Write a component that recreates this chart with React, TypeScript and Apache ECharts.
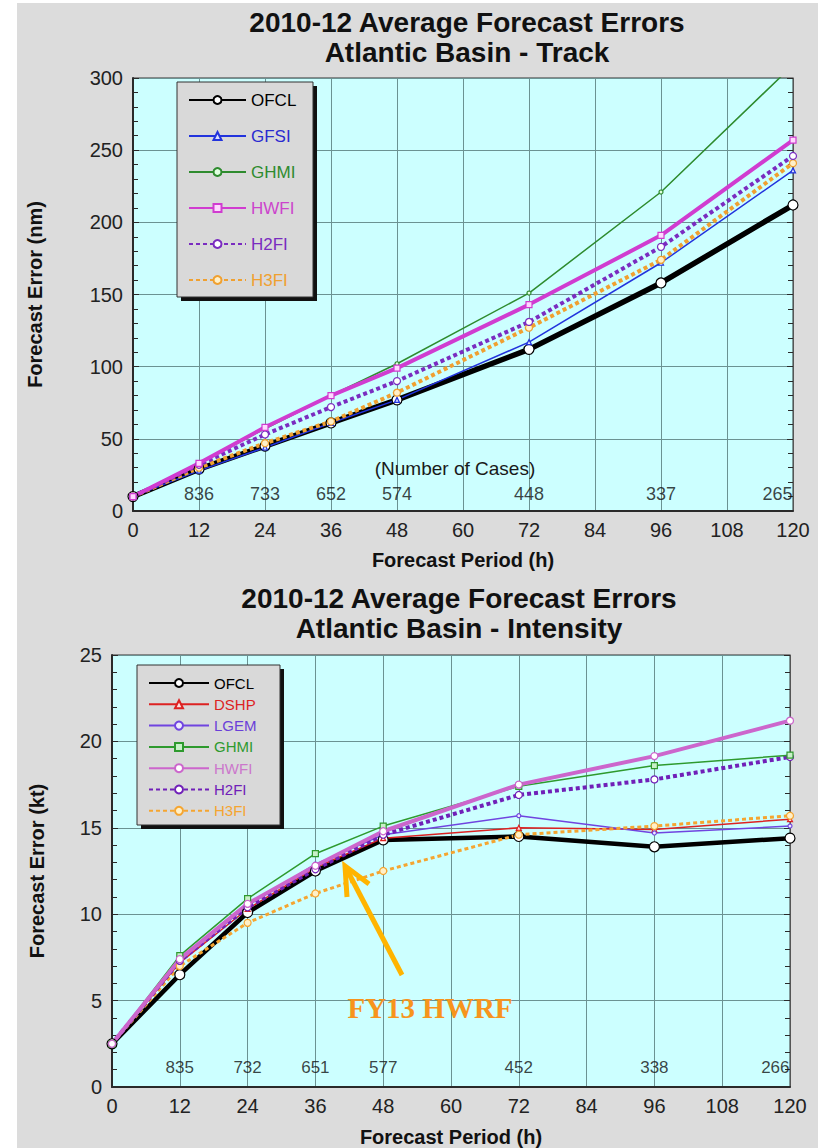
import React, { useEffect, useRef } from "react";
import * as echarts from "echarts";

// ---------- data ----------
const HOURS = [0, 12, 24, 36, 48, 72, 96, 120];

// Track errors (nm)
const TRACK_OFCL = [10, 29, 45, 61, 77, 112, 158, 212];
const TRACK_GFSI = [10, 28, 44, 61, 77, 117, 172, 236];
const TRACK_GHMI = [10, 33, 57, 80, 102, 151, 221, 309];
const TRACK_HWFI = [10, 33, 58, 80, 99, 143, 191, 257];
const TRACK_H2FI = [10, 32, 53, 72, 90, 131, 183, 246];
const TRACK_H3FI = [10, 30, 47, 62, 82, 127, 174, 241];
const TRACK_CASE_HOURS = [12, 24, 36, 48, 72, 96, 120];
const TRACK_CASES = [836, 733, 652, 574, 448, 337, 265];

// Intensity errors (kt)
const INT_OFCL = [2.5, 6.5, 10.1, 12.5, 14.3, 14.5, 13.9, 14.4];
const INT_DSHP = [2.5, 7.2, 10.3, 12.7, 14.4, 15.0, 14.9, 15.5];
const INT_LGEM = [2.5, 7.3, 10.5, 12.9, 14.6, 15.7, 14.7, 15.1];
const INT_GHMI = [2.5, 7.6, 10.9, 13.5, 15.1, 17.4, 18.6, 19.2];
const INT_HWFI = [2.5, 7.4, 10.6, 12.8, 14.8, 17.5, 19.15, 21.2];
const INT_H2FI = [2.5, 7.3, 10.4, 12.6, 14.6, 16.9, 17.8, 19.1];
const INT_H3FI = [2.5, 7.0, 9.5, 11.2, 12.5, 14.6, 15.1, 15.7];
const INT_CASE_HOURS = [12, 24, 36, 48, 72, 96, 120];
const INT_CASES = [835, 732, 651, 577, 452, 338, 266];

const TRACK_TITLE = ["2010-12 Average Forecast Errors", "Atlantic Basin - Track"];
const INT_TITLE = ["2010-12 Average Forecast Errors", "Atlantic Basin - Intensity"];

// ---------- styles ----------
const FONT = "'Liberation Sans', Arial, Helvetica, sans-serif";
const GRID_LINE = "#6b9292";
const PLOT_BG = "#ccffff";
const AXIS_DARK = "#2a2a2a";

type Sty = {
  color: string;
  width: number;
  dash?: number[] | "solid";
  symbol: string;
  size: number;
  fill: string;
  textColor: string;
};

const TRACK_STYLES: Record<string, Sty> = {
  OFCL: { color: "#000000", width: 5.5, symbol: "circle", size: 10, fill: "#ffffff", textColor: "#000000" },
  GFSI: { color: "#2233dd", width: 1.5, symbol: "triangle", size: 5, fill: "#dde0ff", textColor: "#2a2ad0" },
  GHMI: { color: "#2e8b2e", width: 1.5, symbol: "circle", size: 4, fill: "#e0ffe0", textColor: "#2e8b2e" },
  HWFI: { color: "#d03cd0", width: 4, symbol: "rect", size: 6, fill: "#ffd8ff", textColor: "#cc44cc" },
  H2FI: { color: "#7a2cc0", width: 4, dash: [4, 3], symbol: "circle", size: 7, fill: "#ffffff", textColor: "#7a2cc0" },
  H3FI: { color: "#f0a030", width: 4, dash: [4, 3], symbol: "circle", size: 7, fill: "#fff0c8", textColor: "#f0a030" },
};

const INT_STYLES: Record<string, Sty> = {
  OFCL: { color: "#000000", width: 4.5, symbol: "circle", size: 10, fill: "#ffffff", textColor: "#000000" },
  DSHP: { color: "#dd2222", width: 1.5, symbol: "triangle", size: 5, fill: "#ffdddd", textColor: "#dd2222" },
  LGEM: { color: "#7044e0", width: 1.5, symbol: "circle", size: 4, fill: "#eeeaff", textColor: "#6a3fd8" },
  GHMI: { color: "#2e9a2e", width: 1.5, symbol: "rect", size: 6, fill: "#c8f0c8", textColor: "#2e9a2e" },
  HWFI: { color: "#cc66cc", width: 4, symbol: "circle", size: 7, fill: "#ffffff", textColor: "#cc77cc" },
  H2FI: { color: "#7020b8", width: 4, dash: [4, 3], symbol: "circle", size: 7, fill: "#ffffff", textColor: "#7020b8" },
  H3FI: { color: "#f5a530", width: 3, dash: [4, 3], symbol: "circle", size: 7, fill: "#fff0c8", textColor: "#f5a530" },
};

function lineSeries(name: string, values: number[], s: Sty) {
  return {
    type: "line",
    name,
    data: HOURS.map((h, i) => [h, values[i]]),
    symbol: s.symbol,
    symbolSize: s.size,
    showSymbol: true,
    clip: true,
    lineStyle: { color: s.color, width: s.width, type: s.dash || "solid" },
    itemStyle: { color: s.fill, borderColor: s.color, borderWidth: 1.2 },
    emphasis: { disabled: true },
  };
}

function casesSeries(hours: number[], cases: number[], yPos: number, fontSize: number) {
  return {
    type: "scatter",
    name: "cases",
    silent: true,
    symbolSize: 1,
    itemStyle: { color: "rgba(0,0,0,0)" },
    data: hours.map((h, i) => ({
      value: [h, yPos],
      name: String(cases[i]),
      label:
        i === hours.length - 1
          ? { position: "left", distance: 0 }
          : { position: "inside" },
    })),
    label: {
      show: true,
      formatter: "{b}",
      fontSize,
      fontFamily: FONT,
      color: "#111111",
      textBorderWidth: 0,
      textBorderColor: "transparent",
    },
    z: 1,
  };
}

function xAxisOpt(nameGap: number) {
  return {
    type: "value",
    min: 0,
    max: 120,
    interval: 12,
    name: "Forecast Period (h)",
    nameLocation: "middle",
    nameGap,
    nameTextStyle: { fontSize: 20, fontWeight: "bold", color: "#111", fontFamily: FONT },
    axisLine: { show: true, onZero: false, lineStyle: { color: AXIS_DARK, width: 2 } },
    axisTick: { show: false },
    axisLabel: { fontSize: 20, color: "#222", margin: 9, fontFamily: FONT },
    splitLine: { show: true, lineStyle: { color: GRID_LINE, width: 1 } },
  };
}

function yAxesOpt(max: number, interval: number, name: string, nameGap: number) {
  const common = {
    type: "value",
    min: 0,
    max,
    interval,
    axisTick: { show: true, inside: true, length: 6, lineStyle: { color: AXIS_DARK } },
    minorTick: { show: true, splitNumber: 5, length: 5, lineStyle: { color: AXIS_DARK } },
  };
  return [
    {
      ...common,
      position: "left",
      name,
      nameLocation: "middle",
      nameGap,
      nameTextStyle: { fontSize: 20, fontWeight: "bold", color: "#111", fontFamily: FONT },
      axisLine: { show: true, lineStyle: { color: AXIS_DARK, width: 2 } },
      axisLabel: { fontSize: 20, color: "#222", margin: 10, fontFamily: FONT },
      splitLine: { show: true, lineStyle: { color: GRID_LINE, width: 1 } },
    },
    {
      ...common,
      position: "right",
      axisLine: { show: true, lineStyle: { color: "#555", width: 1 } },
      axisLabel: { show: false },
      splitLine: { show: false },
    },
  ];
}

function legendBox(x: number, y: number, w: number, h: number) {
  return [
    { type: "rect", z: 5, shape: { x: x + 4, y: y + 4, width: w, height: h }, style: { fill: "#111" } },
    { type: "rect", z: 6, shape: { x, y, width: w, height: h }, style: { fill: "#d9d9d9", stroke: "#333", lineWidth: 1 } },
  ];
}

function legendOpt(
  styles: Record<string, Sty>,
  left: number,
  top: number,
  itemWidth: number,
  fontSize: number,
  lineHeight: number,
  itemGap: number
) {
  return {
    orient: "vertical",
    left,
    top,
    padding: 0,
    itemWidth,
    itemHeight: 10,
    itemGap,
    z: 10,
    selectedMode: false,
    data: Object.keys(styles).map((n) => ({
      name: n,
      textStyle: { color: styles[n].textColor },
    })),
    textStyle: { fontSize, fontFamily: FONT, lineHeight, padding: [0, 0, 0, 0] },
  };
}

function titleOpt(lines: string[], center: number, top: number) {
  return {
    text: lines.join("\n"),
    left: center,
    top,
    textAlign: "center",
    textStyle: { fontSize: 28, fontWeight: "bold", fontFamily: FONT, color: "#111", lineHeight: 30 },
  };
}

function gridOpt(left: number, right: number, top: number, bottom: number) {
  return {
    left,
    right,
    top,
    bottom,
    outerBoundsMode: "none",
    containLabel: false,
    show: true,
    backgroundColor: PLOT_BG,
    borderColor: "#333",
    borderWidth: 1,
  };
}

function trackOption() {
  return {
    animation: false,
    title: titleOpt(TRACK_TITLE, 462, 2),
    grid: gridOpt(133, 30, 78, 63),
    xAxis: xAxisOpt(39),
    yAxis: yAxesOpt(300, 50, "Forecast Error (nm)", 88),
    legend: legendOpt(TRACK_STYLES, 188, 91, 57, 17, 18, 18),
    graphic: [
      ...legendBox(177, 82, 136, 215),
      {
        type: "text",
        z: 3,
        x: 455,
        y: 468,
        style: { text: "(Number of Cases)", fontSize: 19, fontFamily: FONT, fill: "#1a1a1a", align: "center", verticalAlign: "middle" },
      },
    ],
    series: [
      lineSeries("OFCL", TRACK_OFCL, TRACK_STYLES.OFCL),
      lineSeries("GFSI", TRACK_GFSI, TRACK_STYLES.GFSI),
      lineSeries("GHMI", TRACK_GHMI, TRACK_STYLES.GHMI),
      lineSeries("H3FI", TRACK_H3FI, TRACK_STYLES.H3FI),
      lineSeries("H2FI", TRACK_H2FI, TRACK_STYLES.H2FI),
      lineSeries("HWFI", TRACK_HWFI, TRACK_STYLES.HWFI),
      casesSeries(TRACK_CASE_HOURS, TRACK_CASES, 11.5, 18),
    ],
  };
}

function intensityOption() {
  return {
    animation: false,
    title: titleOpt(INT_TITLE, 454, 4),
    grid: gridOpt(112, 33, 81, 61),
    xAxis: xAxisOpt(40),
    yAxis: yAxesOpt(25, 5, "Forecast Error (kt)", 65),
    legend: legendOpt(INT_STYLES, 148, 101, 60, 15, 16, 5.3),
    graphic: [
      ...legendBox(137, 91, 143, 160),
      {
        type: "line",
        z: 20,
        shape: { x1: 402, y1: 401, x2: 346, y2: 294 },
        style: { stroke: "#ffb400", lineWidth: 5 },
      },
      {
        type: "polyline",
        z: 20,
        shape: { points: [[347, 323], [345, 292], [369, 310]] },
        style: { stroke: "#ffb400", lineWidth: 5, fill: "none", lineJoin: "miter" },
      },
      {
        type: "text",
        z: 20,
        x: 430,
        y: 434,
        style: {
          text: "FY13 HWRF",
          fontSize: 29,
          fontWeight: "bold",
          fontFamily: "'Liberation Serif', 'DejaVu Serif', serif",
          fill: "#f7941d",
          align: "center",
          verticalAlign: "middle",
        },
      },
    ],
    series: [
      lineSeries("OFCL", INT_OFCL, INT_STYLES.OFCL),
      lineSeries("DSHP", INT_DSHP, INT_STYLES.DSHP),
      lineSeries("LGEM", INT_LGEM, INT_STYLES.LGEM),
      lineSeries("H3FI", INT_H3FI, INT_STYLES.H3FI),
      lineSeries("H2FI", INT_H2FI, INT_STYLES.H2FI),
      lineSeries("GHMI", INT_GHMI, INT_STYLES.GHMI),
      lineSeries("HWFI", INT_HWFI, INT_STYLES.HWFI),
      casesSeries(INT_CASE_HOURS, INT_CASES, 1.1, 17),
    ],
  };
}

function Chart({ option, top }: { option: any; top: number }) {
  const ref = useRef<HTMLDivElement>(null);
  useEffect(() => {
    if (!ref.current) return;
    const chart = echarts.init(ref.current, undefined, { renderer: "svg" });
    chart.setOption(option);
    return () => chart.dispose();
  }, [option]);
  return (
    <div
      ref={ref}
      style={{ position: "absolute", left: 0, top, width: 823, height: 574 }}
    />
  );
}

const TRACK_OPTION = trackOption();
const INT_OPTION = intensityOption();

export default function App() {
  return (
    <div
      style={{
        position: "absolute",
        left: 0,
        top: 0,
        width: 823,
        height: 1148,
        background: "#ffffff",
        overflow: "hidden",
        fontFamily: FONT,
      }}
    >
      <div
        style={{
          position: "absolute",
          left: 17,
          top: 3,
          width: 801,
          height: 1145,
          background: "#dcdcdc",
        }}
      />
      <Chart option={TRACK_OPTION} top={0} />
      <Chart option={INT_OPTION} top={574} />
    </div>
  );
}
